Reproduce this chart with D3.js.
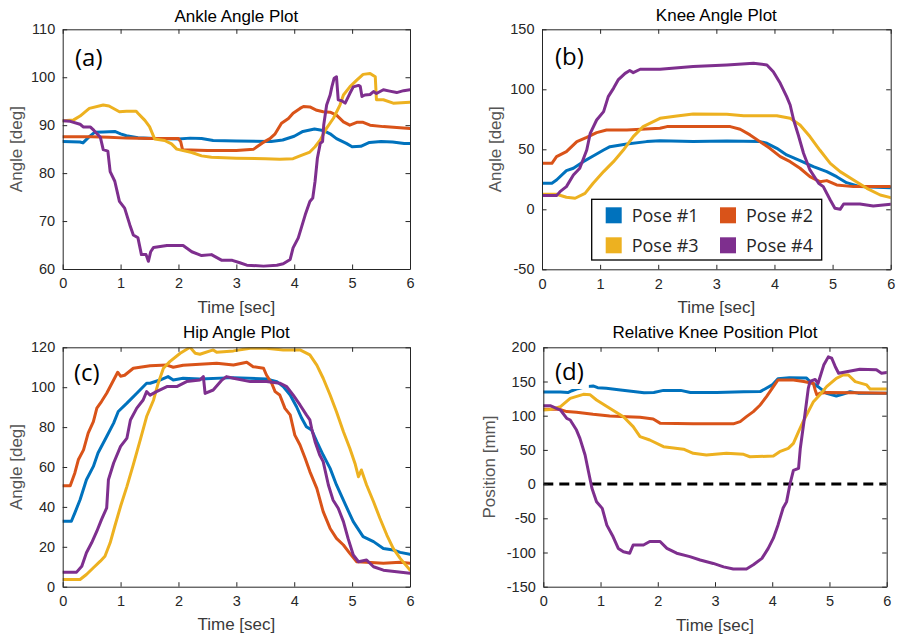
<!DOCTYPE html>
<html>
<head>
<meta charset="utf-8">
<script src="https://cdn.jsdelivr.net/npm/d3@7"></script>
<style>
  body { margin: 0; background: #fff; }
  svg { display: block; }
</style>
</head>
<body>
<svg id="fig" width="897" height="640"></svg>
<script>
// ---- series names, colours and shared ticks ----
const poseNames = ["Pose #1", "Pose #2", "Pose #3", "Pose #4"];
const poseColors = ["#0072BD", "#D95319", "#EDB120", "#7E2F8E"];
const timeTicks = [0, 1, 2, 3, 4, 5, 6];

// ---- (a) ankle angle [deg] vs time [sec] ----
const ankleTicks = [60, 70, 80, 90, 100, 110];
const ankle1 = [[0,86.6],[0.3,86.5],[0.35,86.3],[0.45,87.5],[0.55,88.5],[0.7,88.6],[0.9,88.7],[1.0,88.2],[1.1,87.8],[1.3,87.4],[1.6,87.2],[2.0,87.1],[2.2,87.3],[2.4,87.2],[2.6,86.8],[3.0,86.7],[3.6,86.6],[3.8,86.9],[4.0,87.7],[4.15,88.7],[4.35,89.2],[4.5,88.9],[4.62,88.2],[4.73,87.2],[4.9,86.2],[5.0,85.5],[5.15,85.6],[5.3,86.4],[5.5,86.6],[5.7,86.5],[5.9,86.2],[6.0,86.2]];
const ankle2 = [[0,87.6],[0.5,87.6],[0.8,87.5],[1.1,87.3],[1.5,87.2],[2.0,87.2],[2.04,86.5],[2.07,84.9],[2.5,84.7],[3.0,84.7],[3.3,85.0],[3.45,86.3],[3.58,87.2],[3.67,88.2],[3.78,90.4],[3.9,91.4],[3.98,92.5],[4.1,93.5],[4.16,93.9],[4.27,93.8],[4.39,93.1],[4.5,92.8],[4.62,92.7],[4.73,92.1],[4.85,90.7],[4.96,90.0],[5.08,90.6],[5.19,90.6],[5.31,90.0],[5.54,89.7],[5.77,89.5],[6.0,89.3]];
const ankle3 = [[0,90.9],[0.19,91.1],[0.3,91.9],[0.46,93.5],[0.7,94.2],[0.8,94.0],[0.98,92.8],[1.1,92.9],[1.27,92.9],[1.3,92.5],[1.42,91.0],[1.5,89.7],[1.59,87.1],[1.76,86.8],[1.88,86.1],[1.97,85.0],[2.23,84.3],[2.4,83.6],[2.57,83.3],[3.0,83.1],[3.5,83.0],[3.75,82.9],[3.98,83.0],[4.1,83.6],[4.27,84.4],[4.36,85.5],[4.45,86.9],[4.56,89.4],[4.68,91.5],[4.79,94.2],[4.85,96.3],[4.96,98.0],[5.08,99.4],[5.19,100.6],[5.31,100.8],[5.4,100.1],[5.42,95.3],[5.54,95.3],[5.71,94.6],[6.0,94.8]];
const ankle4 = [[0,90.9],[0.13,90.8],[0.3,90.2],[0.36,89.6],[0.48,89.6],[0.54,88.9],[0.65,87.5],[0.7,84.9],[0.78,84.6],[0.82,80.3],[0.9,78.3],[0.98,74.1],[1.07,72.7],[1.16,69.2],[1.22,67.1],[1.3,66.5],[1.36,63.0],[1.44,63.0],[1.48,61.6],[1.52,63.6],[1.57,64.5],[1.8,64.9],[2.08,64.9],[2.23,63.6],[2.4,62.8],[2.57,63.0],[2.75,61.8],[2.93,61.8],[3.06,61.3],[3.18,60.8],[3.47,60.6],[3.7,60.8],[3.81,61.1],[3.93,62.0],[3.98,64.4],[4.07,66.5],[4.13,68.9],[4.19,71.3],[4.27,74.1],[4.32,74.8],[4.36,78.3],[4.4,83.1],[4.45,86.2],[4.49,86.6],[4.51,90.1],[4.56,94.2],[4.62,96.3],[4.65,98.0],[4.69,99.8],[4.73,100.1],[4.76,95.3],[4.82,95.1],[4.88,94.6],[4.96,96.6],[5.02,98.0],[5.11,98.3],[5.14,98.1],[5.17,96.0],[5.22,96.3],[5.31,96.4],[5.37,97.0],[5.42,96.6],[5.54,97.4],[5.65,97.1],[5.77,96.8],[5.89,97.2],[6.0,97.4]];

// ---- (b) knee angle [deg] vs time [sec] ----
const kneeTicks = [-50, 0, 50, 100, 150];
const knee1 = [[0,21.7],[0.17,21.8],[0.25,24.4],[0.42,32.2],[0.54,34.2],[0.71,39.7],[0.88,44.4],[1.06,49.4],[1.17,52.2],[1.46,54.4],[1.8,56.4],[2.03,57.2],[2.6,56.4],[3.18,56.9],[3.75,56.4],[3.87,55.0],[4.04,50.8],[4.21,45.3],[4.44,40.6],[4.67,35.6],[4.9,31.4],[5.07,27.2],[5.24,22.2],[5.47,18.9],[5.76,18.3],[6.0,18.0]];
const knee2 = [[0,38.3],[0.17,38.3],[0.25,43.9],[0.42,48.0],[0.6,56.4],[0.77,60.0],[0.94,63.9],[1.11,66.1],[1.46,66.1],[2.03,67.5],[2.15,68.9],[2.6,68.9],[3.24,68.9],[3.41,66.7],[3.58,62.0],[3.75,56.4],[3.92,50.8],[4.1,43.9],[4.27,39.7],[4.44,34.2],[4.61,27.2],[4.78,23.0],[4.9,23.9],[5.07,20.3],[5.36,18.9],[6.0,18.9]];
const knee3 = [[0,12.5],[0.25,12.5],[0.42,10.0],[0.57,9.2],[0.74,13.3],[0.88,21.7],[1.06,31.4],[1.23,39.7],[1.4,49.4],[1.57,60.6],[1.74,68.9],[2.03,75.8],[2.32,77.8],[2.6,79.4],[3.18,79.2],[3.47,78.0],[4.04,78.0],[4.27,75.8],[4.44,70.3],[4.61,60.6],[4.78,49.4],[4.96,38.3],[5.13,31.4],[5.36,24.4],[5.59,17.5],[5.82,11.9],[6.0,9.7]];
const knee4 = [[0,11.4],[0.25,11.4],[0.31,14.7],[0.42,18.9],[0.54,28.6],[0.65,34.2],[0.77,49.4],[0.83,63.3],[0.94,74.4],[1.06,81.4],[1.14,93.9],[1.23,100.8],[1.31,107.8],[1.43,113.3],[1.51,115.6],[1.57,113.9],[1.69,116.7],[2.03,116.7],[2.6,118.9],[3.18,120.3],[3.64,121.7],[3.87,120.3],[3.98,114.7],[4.1,105.0],[4.21,93.9],[4.27,86.9],[4.33,74.4],[4.41,61.9],[4.5,46.7],[4.61,32.8],[4.76,21.7],[4.84,18.9],[4.96,7.8],[5.04,0.8],[5.13,0.0],[5.19,4.4],[5.47,4.4],[5.7,2.8],[6.0,4.2]];

// ---- (c) hip angle [deg] vs time [sec] ----
const hipTicks = [0, 20, 40, 60, 80, 100, 120];
const hip1 = [[0,32.8],[0.15,32.8],[0.21,37.0],[0.3,43.6],[0.41,53.6],[0.53,60.3],[0.61,67.0],[0.76,75.3],[0.88,82.0],[0.96,87.8],[1.11,92.0],[1.28,97.0],[1.45,102.0],[1.51,102.0],[1.68,103.6],[1.82,105.3],[1.91,103.6],[2.08,104.5],[2.37,104.1],[2.95,104.8],[3.52,104.1],[3.7,102.8],[3.81,100.3],[3.93,96.1],[4.04,90.2],[4.13,84.4],[4.21,80.2],[4.3,78.6],[4.39,72.7],[4.5,66.0],[4.62,59.3],[4.73,51.0],[4.9,40.1],[5.02,32.6],[5.19,25.1],[5.37,22.6],[5.54,19.2],[5.71,18.4],[5.83,17.2],[6.0,16.2]];
const hip2 = [[0,50.6],[0.13,50.6],[0.21,57.0],[0.27,63.6],[0.36,68.6],[0.44,77.0],[0.53,82.8],[0.59,89.5],[0.67,92.8],[0.76,97.0],[0.88,103.6],[0.95,107.5],[1.0,105.5],[1.07,106.0],[1.22,109.5],[1.51,110.8],[1.8,111.1],[1.91,110.0],[2.08,111.0],[2.66,112.0],[2.95,111.1],[3.18,112.5],[3.29,110.3],[3.47,109.5],[3.52,106.1],[3.61,102.0],[3.67,97.8],[3.75,96.1],[3.84,89.4],[3.93,86.1],[4.01,76.0],[4.1,71.0],[4.19,64.3],[4.27,57.7],[4.39,49.3],[4.5,37.6],[4.62,29.2],[4.73,24.2],[4.85,20.9],[4.96,16.7],[5.08,12.5],[5.25,12.2],[5.54,11.7],[5.83,12.2],[6.0,11.7]];
const hip3 = [[0,3.6],[0.3,3.6],[0.41,6.1],[0.53,9.5],[0.65,12.8],[0.73,15.3],[0.82,22.0],[0.9,30.3],[1.0,40.3],[1.11,50.3],[1.22,61.2],[1.34,73.6],[1.45,85.3],[1.57,93.6],[1.65,102.0],[1.74,109.5],[1.85,112.8],[2.03,117.0],[2.2,120.0],[2.29,117.0],[2.37,116.5],[2.6,118.7],[2.66,117.5],[2.95,118.2],[3.24,119.5],[3.52,119.5],[3.81,118.7],[4.1,118.7],[4.27,116.2],[4.39,111.1],[4.5,104.5],[4.62,96.1],[4.73,87.7],[4.85,77.7],[4.96,69.4],[5.05,61.8],[5.11,55.1],[5.16,58.5],[5.25,51.0],[5.37,42.6],[5.48,34.3],[5.6,25.9],[5.71,19.2],[5.83,14.2],[6.0,8.3]];
const hip4 = [[0,7.3],[0.24,7.3],[0.33,10.3],[0.41,17.0],[0.5,22.0],[0.59,27.8],[0.67,33.6],[0.76,39.5],[0.79,53.6],[0.88,62.0],[1.0,70.3],[1.11,74.5],[1.17,83.6],[1.28,89.5],[1.39,93.6],[1.45,97.8],[1.51,96.0],[1.62,97.8],[1.8,100.3],[1.97,100.3],[2.14,102.8],[2.37,103.6],[2.43,105.3],[2.46,96.9],[2.6,98.6],[2.75,103.6],[2.83,105.3],[2.95,104.5],[3.24,102.8],[3.52,102.8],[3.75,102.0],[3.87,100.3],[3.98,96.1],[4.1,91.1],[4.21,86.1],[4.27,83.6],[4.3,79.4],[4.36,72.7],[4.44,66.0],[4.5,62.7],[4.59,51.0],[4.67,43.5],[4.76,39.3],[4.85,32.6],[4.93,24.2],[5.02,15.9],[5.11,12.5],[5.25,13.4],[5.37,10.0],[5.54,8.3],[5.77,7.5],[6.0,6.7]];

// ---- (d) relative knee position [mm] vs time [sec] ----
const posTicks = [-150, -100, -50, 0, 50, 100, 150, 200];
const pos1 = [[0,134.8],[0.3,134.5],[0.43,133.8],[0.5,136.5],[0.6,139.5],[0.75,142.5],[0.87,143.5],[0.95,141.0],[1.1,140.0],[1.35,137.6],[1.76,133.6],[1.93,134.0],[2.1,137.0],[2.4,137.0],[2.57,134.0],[3.03,134.0],[3.5,135.0],[3.79,135.2],[4.0,145.0],[4.1,154.0],[4.3,155.6],[4.6,155.0],[4.66,150.0],[4.8,142.5],[4.95,132.7],[5.12,128.8],[5.24,131.8],[5.36,135.0],[5.5,133.0],[6.0,133.0]];
const pos2 = [[0,109.3],[0.29,109.3],[0.41,106.0],[0.58,105.0],[0.87,102.0],[1.16,99.6],[1.46,98.6],[1.69,97.6],[1.92,95.2],[2.04,89.1],[2.62,88.1],[3.32,88.1],[3.44,91.3],[3.55,98.6],[3.67,106.0],[3.79,115.7],[3.9,127.9],[4.02,142.5],[4.1,152.2],[4.37,152.2],[4.55,150.0],[4.72,147.0],[4.75,137.6],[4.78,130.3],[4.83,132.7],[4.95,134.0],[5.5,133.5],[6.0,132.7]];
const pos3 = [[0,108.5],[0.12,109.0],[0.3,113.2],[0.47,125.4],[0.7,131.2],[0.82,130.5],[0.93,123.0],[1.16,110.8],[1.4,98.5],[1.57,84.0],[1.69,69.3],[1.86,64.5],[2.1,54.7],[2.45,51.0],[2.62,45.0],[2.85,42.5],[3.2,45.0],[3.5,43.5],[3.61,40.0],[4.02,41.0],[4.13,47.4],[4.28,52.3],[4.37,59.6],[4.46,76.7],[4.54,91.3],[4.63,106.0],[4.72,120.5],[4.83,130.3],[4.95,142.5],[5.12,154.7],[5.24,159.5],[5.33,159.5],[5.45,149.8],[5.65,145.0],[5.71,139.0],[6.0,139.0]];
const pos4 = [[0,114.6],[0.12,114.6],[0.3,108.3],[0.41,96.0],[0.47,93.7],[0.58,79.0],[0.64,66.9],[0.73,42.5],[0.79,18.0],[0.85,-6.0],[0.93,-25.7],[1.03,-35.5],[1.11,-60.0],[1.22,-77.0],[1.31,-94.0],[1.4,-99.0],[1.51,-101.0],[1.57,-89.0],[1.75,-89.0],[1.86,-84.0],[2.04,-84.0],[2.16,-94.0],[2.33,-101.0],[2.56,-106.0],[2.74,-111.0],[2.97,-116.0],[3.15,-121.0],[3.32,-124.0],[3.55,-124.0],[3.67,-118.0],[3.82,-108.6],[3.93,-94.0],[4.02,-79.0],[4.1,-60.0],[4.19,-35.0],[4.25,-26.0],[4.31,0.0],[4.37,20.0],[4.46,23.0],[4.49,52.0],[4.57,101.0],[4.63,140.0],[4.66,150.0],[4.75,153.0],[4.8,147.0],[4.9,174.0],[4.98,186.0],[5.04,184.0],[5.1,172.0],[5.16,162.0],[5.53,168.0],[5.82,167.0],[5.91,162.0],[6.0,163.0]];
const zeroLine = [[0, 0], [6, 0]];

// ---- page layout: one entry per subplot ----
const layout = [
  { tag: "(a)", title: "Ankle Angle Plot", ylabel: "Angle [deg]",
    box: [62.7, 29.3, 410, 269], yDomain: [60, 110], yTicks: ankleTicks,
    series: [ankle1, ankle2, ankle3, ankle4], tagAt: [75, 66], ylabX: 22, titleY: 21.5, xlabY: 313 },
  { tag: "(b)", title: "Knee Angle Plot", ylabel: "Angle [deg]",
    box: [542, 29.3, 890.7, 269.3], yDomain: [-50, 150], yTicks: kneeTicks,
    series: [knee1, knee2, knee3, knee4], tagAt: [555, 65], ylabX: 501, titleY: 20.5, xlabY: 313, legend: true },
  { tag: "(c)", title: "Hip Angle Plot", ylabel: "Angle [deg]",
    box: [62.7, 347.3, 410, 586.7], yDomain: [0, 120], yTicks: hipTicks,
    series: [hip1, hip2, hip3, hip4], tagAt: [74, 380.5], ylabX: 21.5, titleY: 338, xlabY: 630 },
  { tag: "(d)", title: "Relative Knee Position Plot", ylabel: "Position [mm]",
    box: [543.3, 347.3, 886.7, 586.7], yDomain: [-150, 200], yTicks: posTicks,
    series: [pos1, pos2, pos3, pos4], tagAt: [555, 380], ylabX: 495, titleY: 338, xlabY: 631, zero: true }
];

const svg = d3.select("#fig");
const TEXT_FONT = "'Liberation Sans', Arial, sans-serif";
const TAG_FONT = "'Open Sans', 'Noto Sans', sans-serif";
const AXIS_COLOR = "#262626";
const TICK_LEN = 4.5;

layout.forEach((p, i) => {
  const [x0, y0, x1, y1] = p.box;
  const x = d3.scaleLinear().domain([0, 6]).range([x0, x1]);
  const y = d3.scaleLinear().domain(p.yDomain).range([y1, y0]);
  const g = svg.append("g");

  const clipId = "clip" + i;
  g.append("clipPath").attr("id", clipId)
    .append("rect").attr("x", x0).attr("y", y0).attr("width", x1 - x0).attr("height", y1 - y0);

  const plot = g.append("g").attr("clip-path", `url(#${clipId})`);
  const line = d3.line().x(d => x(d[0])).y(d => y(d[1]));

  if (p.zero) {
    plot.append("path").datum(zeroLine).attr("d", line)
      .attr("fill", "none").attr("stroke", "#000").attr("stroke-width", 3)
      .attr("stroke-dasharray", "10,6");
  }

  p.series.forEach((s, k) => {
    plot.append("path").datum(s).attr("d", line)
      .attr("fill", "none").attr("stroke", poseColors[k])
      .attr("stroke-width", 3).attr("stroke-linejoin", "round").attr("stroke-linecap", "round");
  });

  // panel tag with a white text box behind it
  const tagG = g.append("g");
  const tagBg = tagG.append("rect").attr("fill", "#fff");
  const tag = tagG.append("text").text(p.tag)
    .attr("x", p.tagAt[0]).attr("y", p.tagAt[1])
    .attr("font-family", TAG_FONT).attr("font-size", 24).attr("fill", "#000");
  const bb = tag.node().getBBox();
  const bx0 = Math.max(x0 + 1, bb.x - 12);
  tagBg.attr("x", bx0).attr("y", bb.y - 4)
    .attr("width", bb.x + bb.width + 5 - bx0).attr("height", bb.height + 6);

  // axes: inward ticks on all four sides
  const fmt = d => String(d);
  const styleAxis = (sel) => {
    sel.attr("font-family", TEXT_FONT).attr("font-size", 14.5);
    sel.selectAll("path").attr("stroke", AXIS_COLOR).attr("stroke-width", 1);
    sel.selectAll("line").attr("stroke", AXIS_COLOR).attr("stroke-width", 1);
    sel.selectAll("text").attr("fill", AXIS_COLOR);
  };
  g.append("g").attr("transform", `translate(0,${y1})`)
    .call(d3.axisBottom(x).tickValues(timeTicks).tickFormat(fmt).tickSizeInner(-TICK_LEN).tickSizeOuter(0).tickPadding(9))
    .call(styleAxis);
  g.append("g").attr("transform", `translate(0,${y0})`)
    .call(d3.axisTop(x).tickValues(timeTicks).tickFormat("").tickSizeInner(-TICK_LEN).tickSizeOuter(0))
    .call(styleAxis);
  g.append("g").attr("transform", `translate(${x0},0)`)
    .call(d3.axisLeft(y).tickValues(p.yTicks).tickFormat(fmt).tickSizeInner(-TICK_LEN).tickSizeOuter(0).tickPadding(7.5))
    .call(styleAxis);
  g.append("g").attr("transform", `translate(${x1},0)`)
    .call(d3.axisRight(y).tickValues(p.yTicks).tickFormat("").tickSizeInner(-TICK_LEN).tickSizeOuter(0))
    .call(styleAxis);

  // titles and axis labels
  g.append("text").text(p.title)
    .attr("x", (x0 + x1) / 2).attr("y", p.titleY).attr("text-anchor", "middle")
    .attr("font-family", TEXT_FONT).attr("font-size", 17).attr("fill", "#000");
  g.append("text").text("Time [sec]")
    .attr("x", (x0 + x1) / 2).attr("y", p.xlabY).attr("text-anchor", "middle")
    .attr("font-family", TEXT_FONT).attr("font-size", 17).attr("fill", "#3a3a3a");
  g.append("text").text(p.ylabel)
    .attr("transform", `translate(${p.ylabX},${(y0 + y1) / 2}) rotate(-90)`)
    .attr("text-anchor", "middle")
    .attr("font-family", TEXT_FONT).attr("font-size", 17).attr("fill", "#555");

  if (p.legend) {
    const lg = g.append("g");
    lg.append("rect").attr("x", 591.7).attr("y", 199.3).attr("width", 230).attr("height", 60.7)
      .attr("fill", "#fff").attr("stroke", "#000").attr("stroke-width", 1.3);
    poseNames.forEach((name, k) => {
      const col = k % 2, row = Math.floor(k / 2);
      const sx = 605.7 + col * 114.3, sy = 207.3 + row * 30;
      lg.append("rect").attr("x", sx).attr("y", sy).attr("width", 16).attr("height", 16)
        .attr("fill", poseColors[k]);
      lg.append("text").text(name).attr("x", sx + 26).attr("y", sy + 14.4)
        .attr("font-family", TAG_FONT).attr("font-size", 18).attr("fill", "#262626");
    });
  }
});
</script>
</body>
</html>
